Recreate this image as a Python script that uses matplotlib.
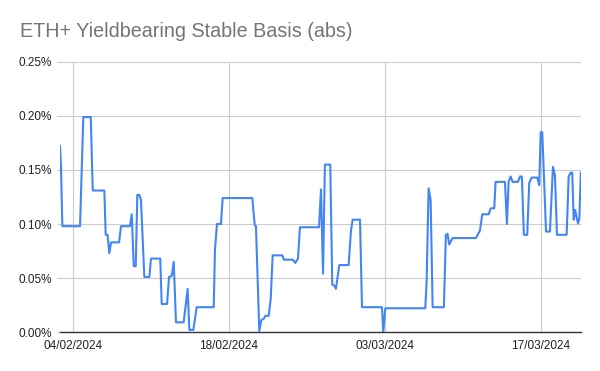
import datetime as dt
import matplotlib
matplotlib.use("Agg")
import matplotlib.pyplot as plt
import matplotlib.dates as mdates
from matplotlib.ticker import FuncFormatter

# days after 04/02/2024 and basis in percent
days = [-1.17, -1.08, -0.96, 0.63, 0.92, 1.59, 1.77, 2.81, 2.93, 3.10, 3.26, 3.41,
        4.13, 4.31, 5.12, 5.27, 5.45, 5.63, 5.77, 5.95, 6.10, 6.40, 6.85, 7.00,
        7.83, 7.96, 8.44, 8.62, 8.86, 9.04, 9.24, 9.93, 10.29, 10.44, 10.80, 11.10,
        12.63, 12.74, 12.92, 13.28, 13.43, 16.09, 16.31, 16.42, 16.72, 16.90, 17.14,
        17.26, 17.56, 17.74, 17.92, 18.78, 18.93, 19.72, 19.95, 20.19, 20.37, 22.08,
        22.26, 22.44, 22.61, 23.09, 23.27, 23.45, 23.60, 23.90, 24.74, 24.95, 25.10,
        25.76, 25.94, 27.73, 27.85, 28.03, 31.62, 31.74, 31.92, 32.10, 32.28, 33.29,
        33.47, 33.62, 33.77, 34.07, 36.17, 36.53, 36.73, 37.31, 37.49, 37.81, 37.93,
        38.77, 38.95, 39.10, 39.28, 39.46, 39.94, 40.12, 40.29, 40.47, 40.77, 40.95,
        41.17, 41.67, 41.85, 41.98, 42.12, 42.46, 42.81, 43.08, 43.26, 43.44, 44.31,
        44.49, 44.67, 44.81, 44.94, 45.08, 45.21, 45.33, 45.45, 45.58]
basis = [0.172, 0.153, 0.098, 0.098, 0.199, 0.199, 0.131, 0.131, 0.090, 0.090, 0.073, 0.083,
         0.083, 0.098, 0.098, 0.109, 0.061, 0.061, 0.127, 0.127, 0.122, 0.051, 0.051, 0.068,
         0.068, 0.026, 0.026, 0.051, 0.052, 0.065, 0.009, 0.009, 0.040, 0.002, 0.002, 0.023,
         0.023, 0.076, 0.100, 0.100, 0.124, 0.124, 0.099, 0.098, 0.001, 0.011, 0.0125,
         0.015, 0.015, 0.030, 0.071, 0.071, 0.067, 0.067, 0.064, 0.068, 0.097, 0.097,
         0.132, 0.054, 0.155, 0.155, 0.044, 0.043, 0.040, 0.062, 0.062, 0.094, 0.104,
         0.104, 0.023, 0.023, 0.000, 0.022, 0.022, 0.047, 0.133, 0.122, 0.023, 0.023,
         0.090, 0.091, 0.081, 0.087, 0.087, 0.094, 0.109, 0.109, 0.1145, 0.1145, 0.139,
         0.139, 0.100, 0.139, 0.144, 0.139, 0.139, 0.144, 0.144, 0.090, 0.090, 0.138,
         0.143, 0.143, 0.136, 0.185, 0.185, 0.093, 0.093, 0.153, 0.145, 0.090, 0.090,
         0.144, 0.1475, 0.1475, 0.104, 0.113, 0.106, 0.1005, 0.105, 0.1475]
tick_dates = ["04/02/2024", "18/02/2024", "03/03/2024", "17/03/2024"]
y_ticks = [0.00, 0.05, 0.10, 0.15, 0.20, 0.25]

plt.rcParams["font.family"] = ["Liberation Sans", "DejaVu Sans"]

start = dt.datetime(2024, 2, 4)
dates = [start + dt.timedelta(days=d) for d in days]

fig = plt.figure(figsize=(6, 3.71), dpi=100)
ax = fig.add_axes([0.1, 0.105, 0.868, 0.728])

ax.plot(dates, basis, color="#4285F4", linewidth=1.5, zorder=3)

ax.set_xlim(dates[0], dates[-1])
ax.set_ylim(0, 0.25)
ax.set_yticks(y_ticks)
ax.yaxis.set_major_formatter(FuncFormatter(lambda v, p: "{:.2f}%".format(v)))
ax.set_xticks([dt.datetime.strptime(t, "%d/%m/%Y") for t in tick_dates])
ax.xaxis.set_major_formatter(mdates.DateFormatter("%d/%m/%Y"))

ax.grid(True, color="#cccccc", linewidth=0.8, zorder=0)
for side in ["top", "right", "left"]:
    ax.spines[side].set_visible(False)
ax.spines["bottom"].set_color("#333333")
ax.spines["bottom"].set_linewidth(1)
ax.spines["bottom"].set_zorder(4)
ax.tick_params(axis="y", length=2, color="#cccccc", pad=4, labelsize=8.5, labelcolor="#222222")
ax.tick_params(axis="x", length=0, pad=6, labelsize=8.5, labelcolor="#222222")

fig.text(0.033, 0.9, "ETH+ Yieldbearing Stable Basis (abs)", fontsize=14.2, color="#757575",
         ha="left", va="baseline")

fig.savefig("out.png", dpi=100)
